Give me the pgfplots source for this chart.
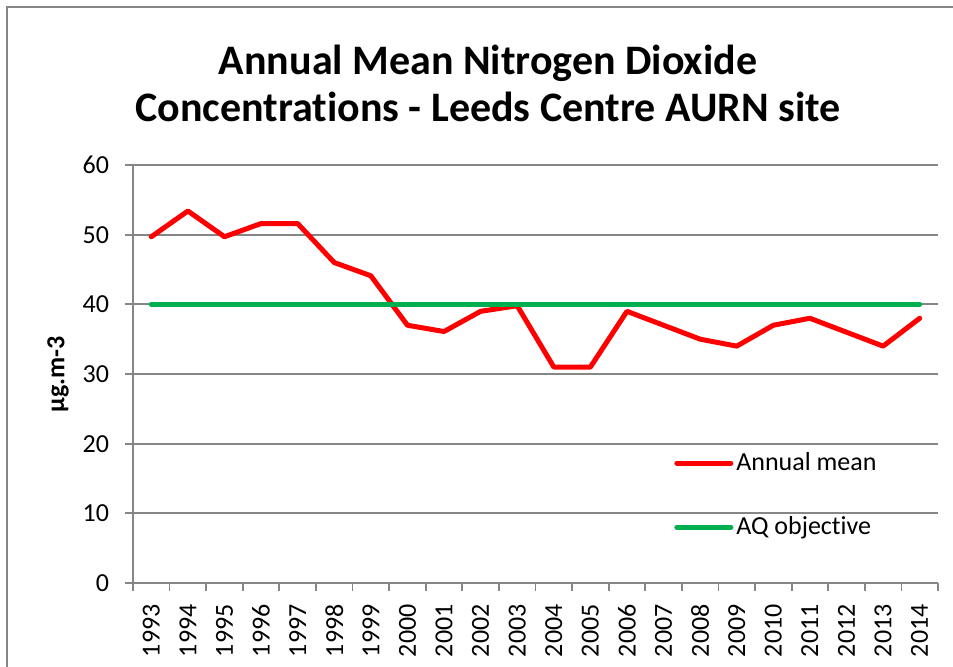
\documentclass[border=0pt]{standalone}
\usepackage{fontspec}
\setmainfont{Carlito}[Ligatures={NoCommon}]
\usepackage{pgfplots}
\pgfplotsset{compat=1.18}

\definecolor{gridgray}{HTML}{868686}
\definecolor{aqgreen}{HTML}{00B050}

\pgfplotstableread{
year no2
1993 49.7
1994 53.4
1995 49.7
1996 51.6
1997 51.6
1998 46.0
1999 44.1
2000 37.0
2001 36.1
2002 39.0
2003 39.8
2004 31.0
2005 31.0
2006 39.0
2007 37.0
2008 35.0
2009 34.0
2010 37.0
2011 38.0
2012 36.0
2013 34.0
2014 38.0
}\annualmean

\begin{document}
\begin{tikzpicture}
\useasboundingbox (-66.5pt,-41.5pt) rectangle (410pt,291.5pt);
\begin{axis}[
  scale only axis,
  width=402.5pt, height=209pt,
  xmin=1992.5, xmax=2014.5,
  ymin=0, ymax=60,
  axis x line*=bottom, axis y line*=left,
  axis line style={gridgray, line width=0.9pt},
  ytick={0,10,...,60},
  ymajorgrids,
  major grid style={gridgray, line width=0.9pt},
  xtick={1992.5,1993.5,...,2014.5},
  xticklabels={},
  extra x ticks={1993,1994,...,2014},
  extra x tick style={tick style={draw=none}, grid=none},
  tick align=outside,
  major tick length=4pt,
  tick style={gridgray, line width=0.9pt},
  /pgf/number format/1000 sep={},
  /pgf/number format/assume math mode=true,
  tick label style={font=\fontsize{13}{15}\selectfont},
  yticklabel style={xshift=-4.5pt},
  xticklabel style={rotate=90, anchor=east, inner sep=6.5pt},
  ylabel={\textbf{µg.m-3}},
  ylabel style={font=\fontsize{13}{15}\selectfont, at={(axis description cs:-0.093,0.5)}, anchor=center},
  legend cell align=left,
  legend style={draw=none, fill=none, anchor=north west,
    at={(rel axis cs:0.672,0.32)}, inner sep=0pt, row sep=18.5pt,
    font=\fontsize{13}{15}\selectfont,
    nodes={inner sep=1.5pt}},
  legend image code/.code={\draw[#1, line cap=round] (0pt,0pt) -- (27pt,0pt);},
]
\addplot[red, line width=2.5pt, line join=round, line cap=round] table[x=year, y=no2] {\annualmean};
\addlegendentry{Annual mean}
\addplot[aqgreen, line width=2.5pt, line cap=round] coordinates {(1993,40) (2014,40)};
\addlegendentry{AQ objective}
\end{axis}
\node[font=\fontsize{21}{25}\selectfont\bfseries, anchor=base] at (177.5pt,254.5pt) {Annual Mean Nitrogen Dioxide};
\node[font=\fontsize{21}{25}\selectfont\bfseries, anchor=base] at (177.5pt,231pt) {Concentrations - Leeds Centre AURN site};
\draw[gridgray, line width=1pt] (-63pt,-45pt) -- (-63pt,288pt) -- (415pt,288pt);
\end{tikzpicture}
\end{document}
